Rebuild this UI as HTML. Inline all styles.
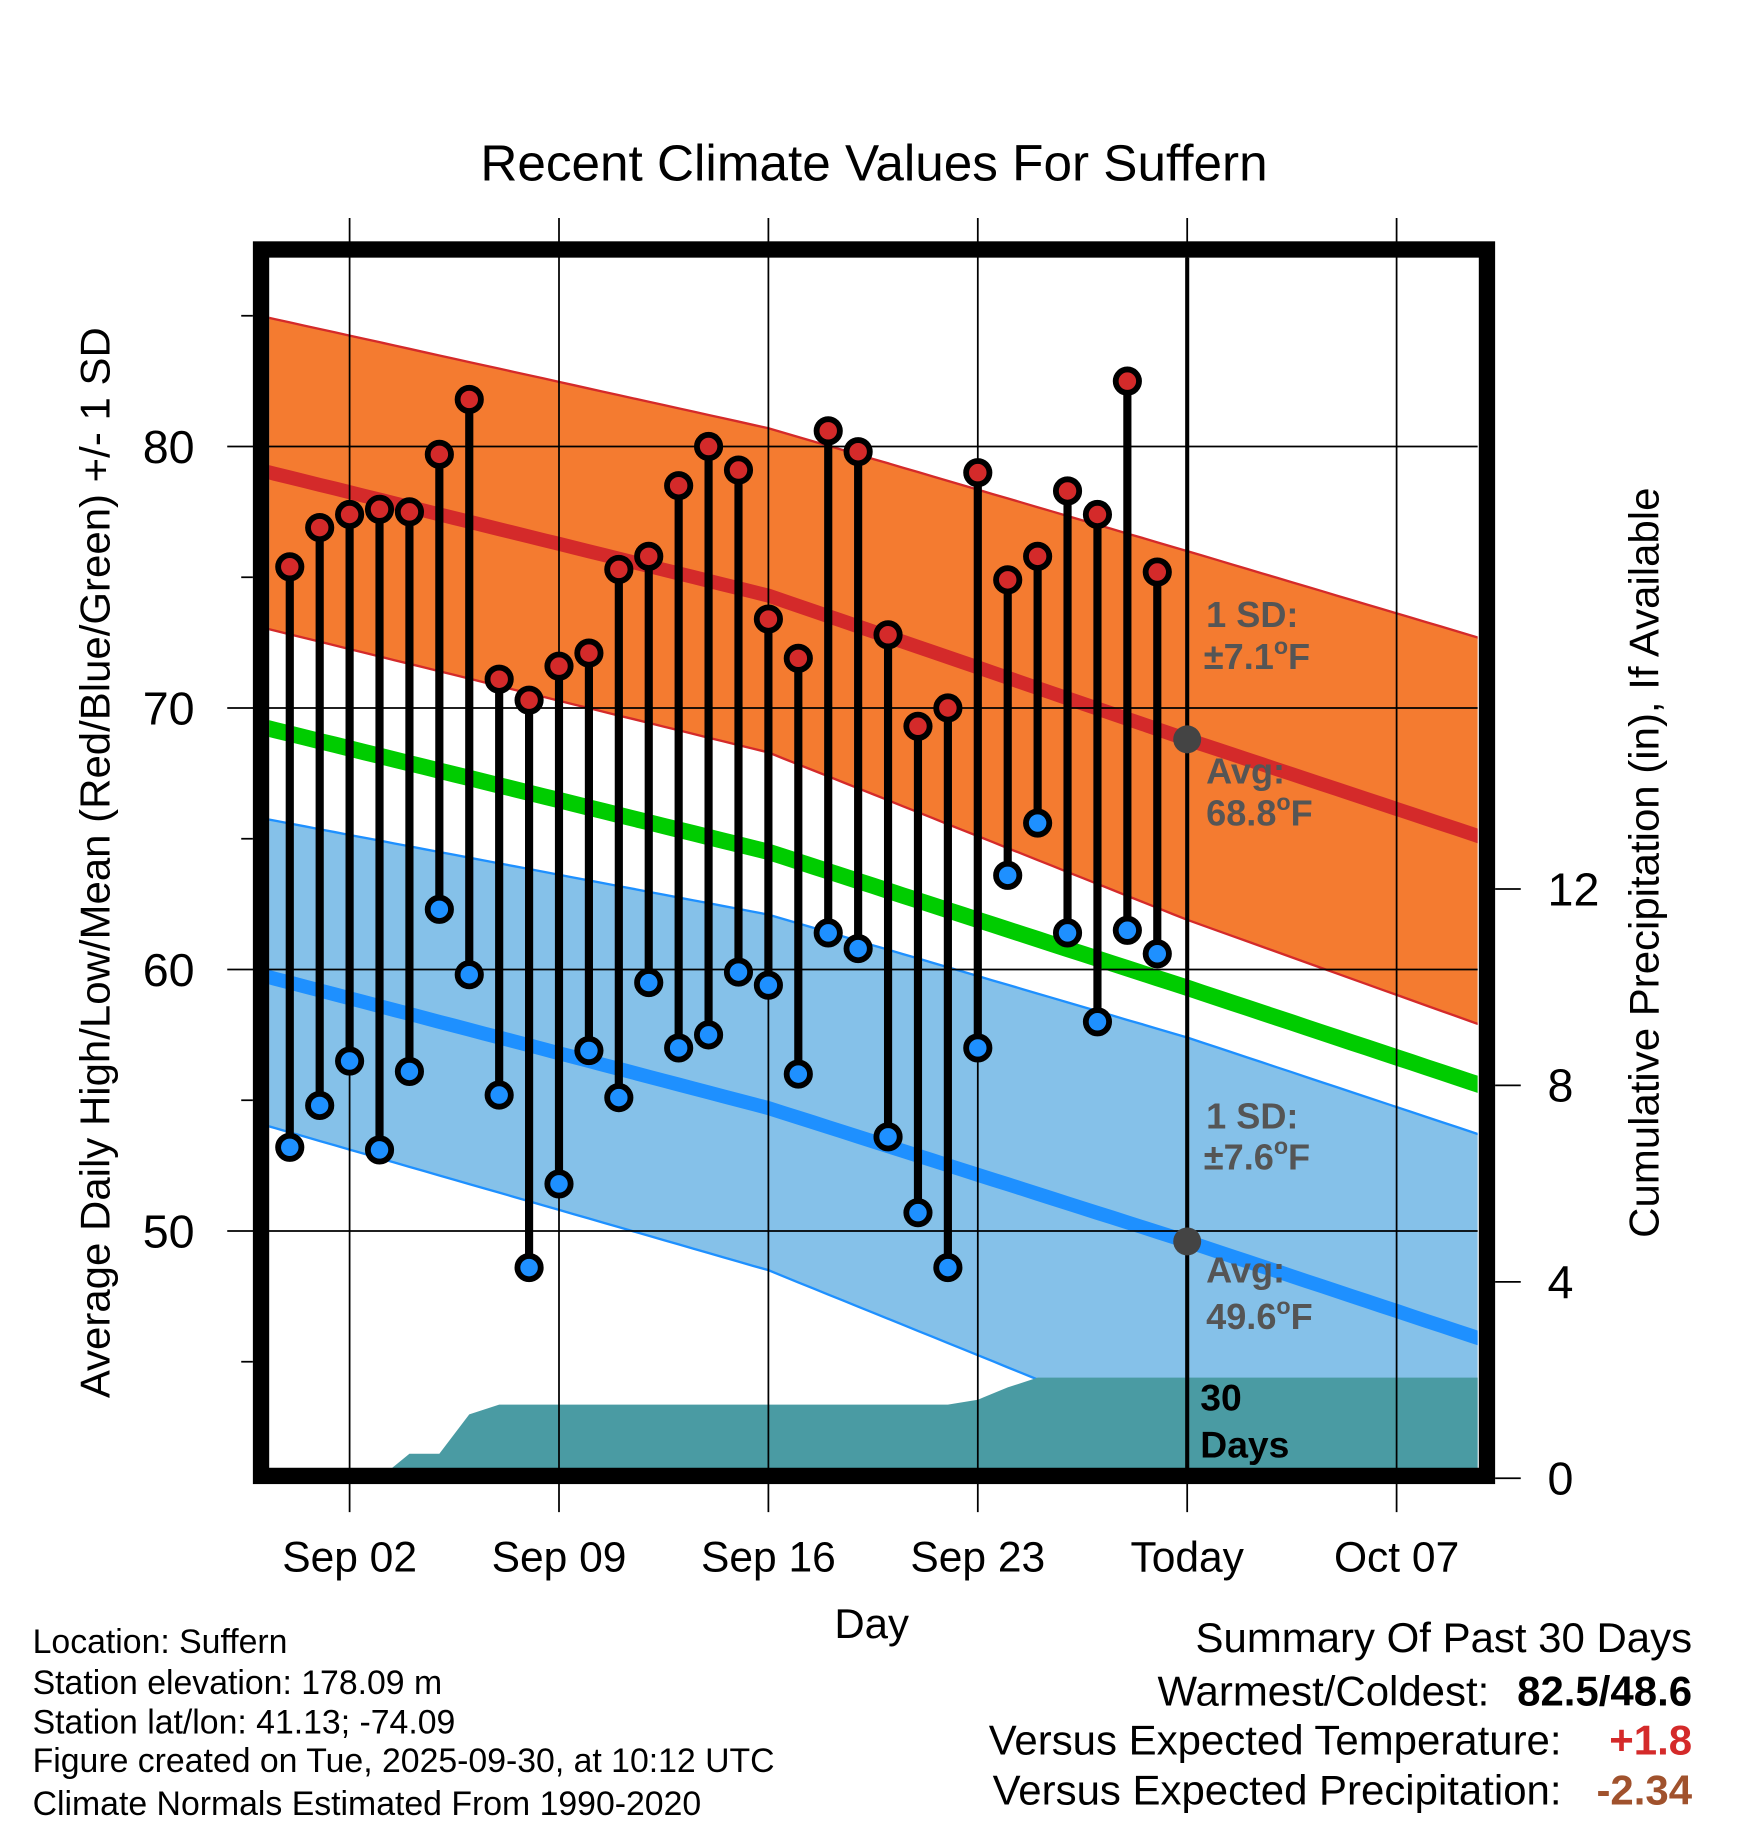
<!DOCTYPE html>
<html><head><meta charset="utf-8"><style>html,body{margin:0;padding:0;background:#fff}svg{display:block;font-family:"Liberation Sans",sans-serif}</style></head>
<body>
<svg id="chart" width="1748" height="1828" viewBox="0 0 1500 1568" preserveAspectRatio="none" xmlns="http://www.w3.org/2000/svg">
<text x="750" y="155" font-size="44" text-anchor="middle">Recent Climate Values For Suffern</text>
<defs><clipPath id="plotclip"><rect x="231" y="221" width="1037" height="1039"/></clipPath></defs>
<g id="bands" clip-path="url(#plotclip)"></g>
<g id="grid"></g>
<g id="marks"></g>
<rect x="224" y="214" width="1052" height="1052" fill="none" stroke="#000" stroke-width="14"/>
<g id="axes"></g>
<g font-weight="bold" font-size="31" fill="#555">
<text x="1035" y="538">1 SD:</text><text x="1033" y="574">±7.1<tspan dy="-13" font-size="20">o</tspan><tspan dy="13">F</tspan></text>
<text x="1035" y="672">Avg:</text><text x="1035" y="708">68.8<tspan dy="-13" font-size="20">o</tspan><tspan dy="13">F</tspan></text>
<text x="1035" y="968">1 SD:</text><text x="1033" y="1003">±7.6<tspan dy="-13" font-size="20">o</tspan><tspan dy="13">F</tspan></text>
<text x="1035" y="1100">Avg:</text><text x="1035" y="1140">49.6<tspan dy="-13" font-size="20">o</tspan><tspan dy="13">F</tspan></text>
<text x="1030" y="1210" fill="#000" font-size="32">30</text><text x="1030" y="1250" fill="#000" font-size="32">Days</text>
</g>
<text x="748" y="1405" font-size="36" text-anchor="middle">Day</text>
<text transform="translate(94,740) rotate(-90)" font-size="36" text-anchor="middle">Average Daily High/Low/Mean (Red/Blue/Green) +/- 1 SD</text>
<text transform="translate(1423,740) rotate(-90)" font-size="36" text-anchor="middle">Cumulative Precipitation (in), If Available</text>
<g font-size="29">
<text x="28" y="1418">Location: Suffern</text>
<text x="28" y="1453">Station elevation: 178.09 m</text>
<text x="28" y="1487">Station lat/lon: 41.13; -74.09</text>
<text x="28" y="1520">Figure created on Tue, 2025-09-30, at 10:12 UTC</text>
<text x="28" y="1557">Climate Normals Estimated From 1990-2020</text>
</g>
<g font-size="36" text-anchor="end">
<text x="1452" y="1417">Summary Of Past 30 Days</text>
<text x="1278" y="1463">Warmest/Coldest:</text><text x="1452" y="1463" font-weight="bold">82.5/48.6</text>
<text x="1340" y="1505">Versus Expected Temperature:</text><text x="1452" y="1505" font-weight="bold" fill="#d42a2a">+1.8</text>
<text x="1340" y="1548">Versus Expected Precipitation:</text><text x="1452" y="1548" font-weight="bold" fill="#a0522d">-2.34</text>
</g>
</svg>
<script>
// day index: 0 = Aug 31 ... 29 = Sep 29; Sep N = day N
const highs=[75.4,76.9,77.4,77.6,77.5,79.7,81.8,71.1,70.3,71.6,72.1,75.3,75.8,78.5,80.0,79.1,73.4,71.9,80.6,79.8,72.8,69.3,70.0,79.0,74.9,75.8,78.3,77.4,82.5,75.2];
const lows=[53.2,54.8,56.5,53.1,56.1,62.3,59.8,55.2,48.6,51.8,56.9,55.1,59.5,57.0,57.5,59.9,59.4,56.0,61.4,60.8,53.6,50.7,48.6,57.0,63.6,65.6,61.4,58.0,61.5,60.6];
const normDays=[-1,16,30,40];
const normHigh=[79.1,74.3,68.8,65.0];
const normHighUpper=[85.0,80.7,76.0,72.6];
const normHighLower=[73.1,68.3,61.9,57.8];
const normMean=[69.3,64.5,59.3,55.5];
const normLow=[59.8,54.7,49.6,45.8];
const normLowUpper=[65.8,62.1,57.4,53.6];
const normLowLower=[54.1,48.5,42.0,38.5];
const precipDays=[3,4,5,6,7,22,23,24,25,40];
const precipCum=[0,0.5,0.5,1.3,1.5,1.5,1.6,1.85,2.05,2.05];
const xTickDays=[2,9,16,23,30,37];
const xTickLabels=["Sep 02","Sep 09","Sep 16","Sep 23","Today","Oct 07"];
const yTicks=[50,60,70,80];
const y2Ticks=[0,4,8,12];

const NS="http://www.w3.org/2000/svg";
const X=d=>300+(d-2)*25.67;
const Y=v=>383+(80-v)*22.43;
const Y2=p=>1268-p*42.12;
function mk(tag,attrs,parent){const e=document.createElementNS(NS,tag);for(const k in attrs)e.setAttribute(k,attrs[k]);parent.appendChild(e);return e;}
function interp(ds,vs,d){if(d<=ds[0])return vs[0]+(vs[1]-vs[0])*(d-ds[0])/(ds[1]-ds[0]);for(let i=1;i<ds.length;i++){if(d<=ds[i])return vs[i-1]+(vs[i]-vs[i-1])*(d-ds[i-1])/(ds[i]-ds[i-1]);}const n=ds.length;return vs[n-2]+(vs[n-1]-vs[n-2])*(d-ds[n-2])/(ds[n-1]-ds[n-2]);}
const dStart=-1.5,dEnd=40.5,steps=84;
function line(vs){let pts=[];for(let i=0;i<=steps;i++){const d=dStart+(dEnd-dStart)*i/steps;pts.push(X(d).toFixed(1)+","+Y(interp(normDays,vs,d)).toFixed(1));}return pts;}
function band(up,lo){return line(up).concat(line(lo).reverse()).join(" ");}
const bands=document.getElementById('bands');
let e;
e=mk('polygon',{points:band(normHighUpper,normHighLower),fill:'#f47b30',stroke:'#d42a2a','stroke-width':2},bands);


e=mk('polygon',{points:band(normLowUpper,normLowLower),fill:'#85c1e9',stroke:'#1e90ff','stroke-width':2},bands);


e=mk('polyline',{points:line(normHigh).join(" "),fill:'none',stroke:'#d42a2a','stroke-width':12},bands);


e=mk('polyline',{points:line(normMean).join(" "),fill:'none',stroke:'#00cc00','stroke-width':14},bands);


e=mk('polyline',{points:line(normLow).join(" "),fill:'none',stroke:'#1e90ff','stroke-width':12},bands);


let pp=[X(precipDays[0])+","+1270];
precipDays.forEach((d,i)=>pp.push(X(d)+","+Y2(precipCum[i])));
pp.push(X(precipDays[precipDays.length-1])+",1270");
e=mk('polygon',{points:pp.join(" "),fill:'#4a9ba3'},bands);



const grid=document.getElementById('grid');
xTickDays.forEach(d=>{e=mk('line',{x1:X(d),x2:X(d),y1:187,y2:1297,stroke:'#000','stroke-width':1.5},grid);

});
yTicks.forEach(v=>{e=mk('line',{x1:195,x2:1268,y1:Y(v),y2:Y(v),stroke:'#000','stroke-width':1.5},grid);

});

const marks=document.getElementById('marks');
highs.forEach((h,i)=>{
 e=mk('line',{x1:X(i),x2:X(i),y1:Y(h),y2:Y(lows[i]),stroke:'#000','stroke-width':7},marks);
 
 
});
highs.forEach((h,i)=>{
 e=mk('circle',{cx:X(i),cy:Y(h),r:10,fill:'#d42a2a',stroke:'#000','stroke-width':5},marks);
 
 
 e=mk('circle',{cx:X(i),cy:Y(lows[i]),r:10,fill:'#1e90ff',stroke:'#000','stroke-width':5},marks);
 
 
});
e=mk('line',{x1:X(30),x2:X(30),y1:221,y2:1260,stroke:'#000','stroke-width':3.5},marks);


e=mk('circle',{cx:X(30),cy:Y(interp(normDays,normHigh,30)),r:12,fill:'#444'},marks);


e=mk('circle',{cx:X(30),cy:Y(interp(normDays,normLow,30)),r:12,fill:'#444'},marks);



const axes=document.getElementById('axes');
xTickLabels.forEach((t,i)=>{e=mk('text',{x:X(xTickDays[i]),y:1348,'font-size':36.5,'text-anchor':'middle'},axes);e.textContent=t;

});
yTicks.forEach(v=>{e=mk('text',{x:167,y:Y(v)+14,'font-size':40,'text-anchor':'end'},axes);e.textContent=v;

});
[45,55,65,75,85].forEach(v=>{e=mk('line',{x1:207,x2:217,y1:Y(v),y2:Y(v),stroke:'#000','stroke-width':1.5},axes);

});
y2Ticks.forEach(p=>{e=mk('line',{x1:1283,x2:1305,y1:Y2(p),y2:Y2(p),stroke:'#000','stroke-width':1.5},axes);


e=mk('text',{x:1328,y:Y2(p)+14,'font-size':40,'text-anchor':'start'},axes);e.textContent=p;

});
</script>
</body></html>
